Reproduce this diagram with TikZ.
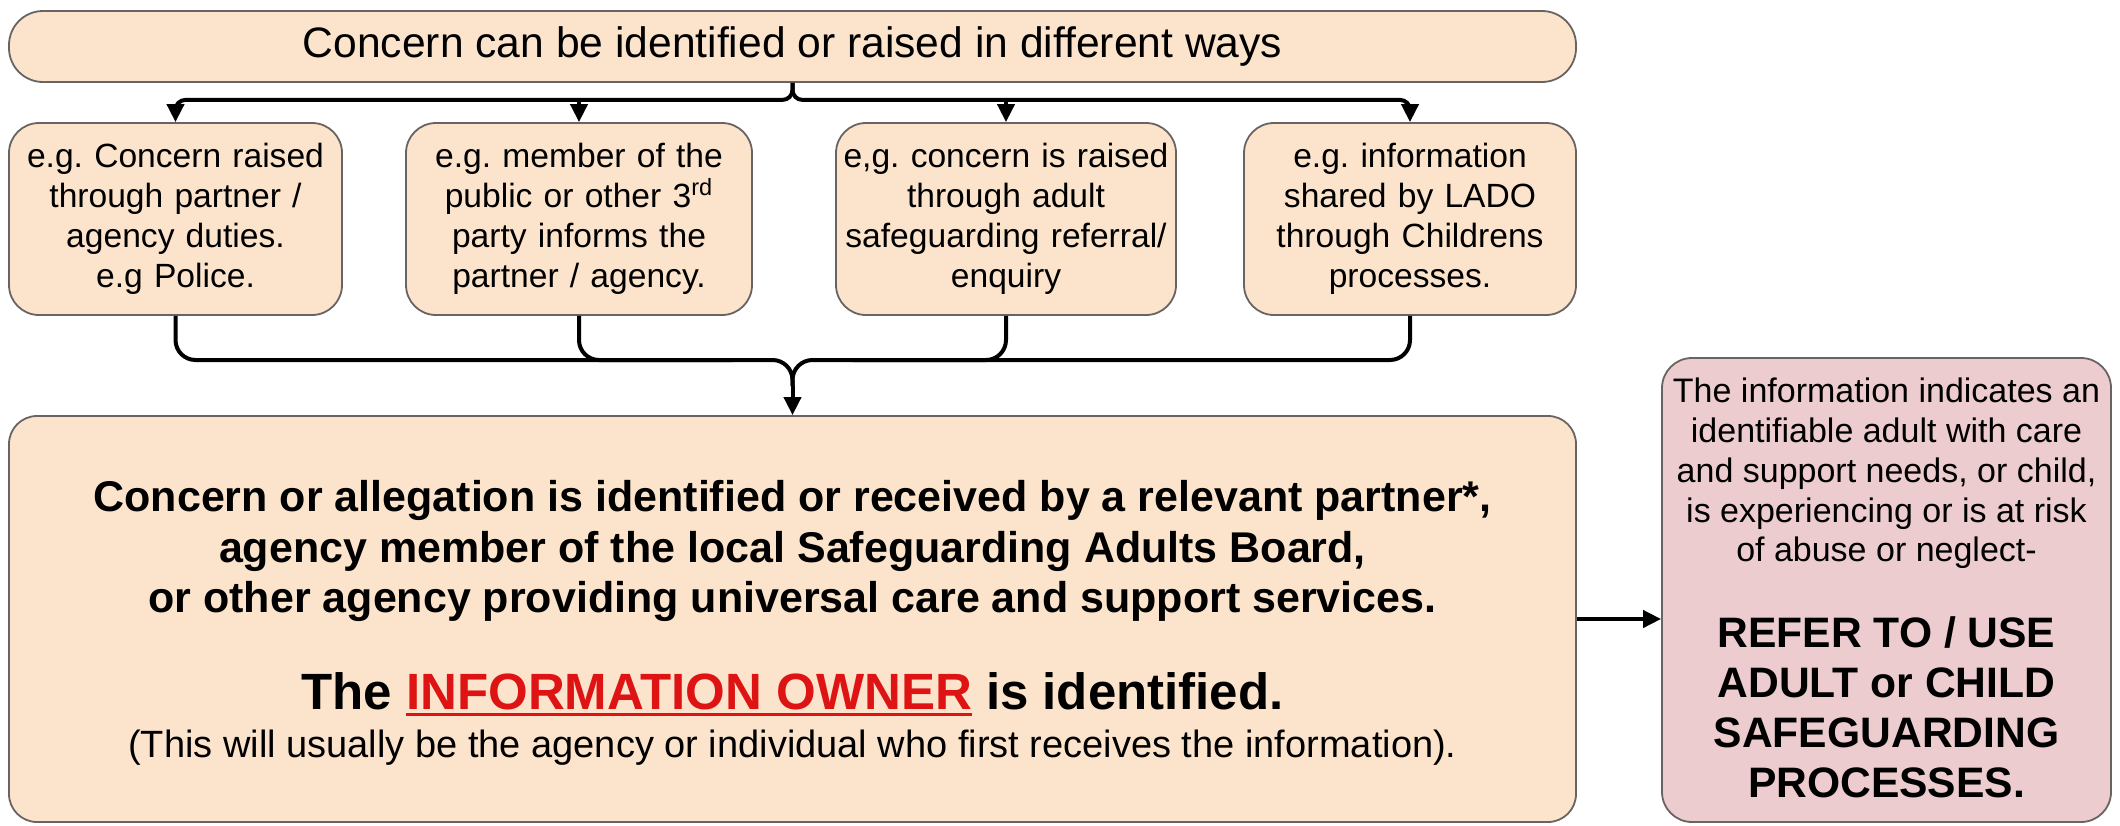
\documentclass[tikz,border=0pt]{standalone}
\usepackage{fontspec}
\setmainfont{Liberation Sans}
\usetikzlibrary{arrows.meta,calc}
\definecolor{peach}{RGB}{252,228,204}
\definecolor{rose}{RGB}{236,204,206}
\definecolor{edgegray}{RGB}{105,100,98}
\definecolor{ownerred}{RGB}{222,20,20}
\newcommand\redul[1]{\setbox0\hbox{#1}\rlap{\rule[-3.5pt]{\wd0}{1.6pt}}\box0}
\begin{document}
\begin{tikzpicture}[x=0.5pt,y=-0.5pt,
  box/.style={draw=edgegray, line width=0.9pt, fill=peach, rounded corners=15pt, inner sep=2pt, align=center},
  smallbox/.style={box, minimum height=96pt, font=\fontsize{16.8}{20}\selectfont},
  conn/.style={line width=2pt, rounded corners=5pt},
  arr/.style={-{Triangle[length=9pt,width=8.5pt]}}
]
\useasboundingbox (0,0) rectangle (2120,825);

% top box
\node[box, minimum width=783.5pt, minimum height=35.5pt, rounded corners=17pt,
      font=\fontsize{21.3}{24}\selectfont] (top) at (792.5,46.5)
      {Concern can be identified or raised in different ways};

% four example boxes
\node[smallbox, minimum width=166.5pt, text width=160pt] (b1) at (175.5,219)
  {e.g.\ Concern raised\\through partner /\\agency duties.\\e.g Police.};
\node[smallbox, minimum width=173pt, text width=167pt] (b2) at (579,219)
  {e.g.\ member of the\\public or other 3\textsuperscript{rd}\\party informs the\\partner / agency.};
\node[smallbox, minimum width=170pt, text width=166pt] (b3) at (1006,219)
  {e,g.\ concern is raised\\through adult\\safeguarding referral/\\enquiry};
\node[smallbox, minimum width=166pt, text width=160pt] (b4) at (1410,219)
  {e.g.\ information\\shared by LADO\\through Childrens\\processes.};

% main box
\node[box, minimum width=783.5pt, minimum height=203pt, rounded corners=14pt] (main) at (792.5,619) {};
\node[anchor=base, font=\fontsize{21.5}{25}\bfseries\selectfont] (m1) at (792.5,511)
  {Concern or allegation is identified or received by a relevant partner*,};
\node[anchor=base, font=\fontsize{21.5}{25}\bfseries\selectfont] (m2) at (792.5,562)
  {agency member of the local Safeguarding Adults Board,};
\node[anchor=base, font=\fontsize{21.5}{25}\bfseries\selectfont] (m3) at (792.5,612)
  {or other agency providing universal care and support services.};
\node[anchor=base, font=\fontsize{25.5}{30}\bfseries\selectfont] (m4) at (792.5,709)
  {The \textcolor{ownerred}{\redul{INFORMATION OWNER}} is identified.};
\node[anchor=base, font=\fontsize{19}{22}\selectfont] (m5) at (792.5,757)
  {(This will usually be the agency or individual who first receives the information).};

% right box
\node[box, fill=rose, minimum width=224.5pt, minimum height=232pt, rounded corners=15pt] (refer) at (1886.5,590) {};
\node[align=center, font=\fontsize{17}{19.85}\selectfont, inner sep=0pt] (r1) at (1886.5,473.5)
  {The information indicates an\\identifiable adult with care\\and support needs, or child,\\is experiencing or is at risk\\of abuse or neglect-};
\node[align=center, font=\fontsize{21.3}{25}\bfseries\selectfont, inner sep=0pt] (r2) at (1886.5,707)
  {REFER TO / USE\\ADULT or CHILD\\SAFEGUARDING\\PROCESSES.};

% distribution connectors
\coordinate (dist) at ($(top.south)+(0,17)$);
\draw[conn, arr] (top.south) -- (dist) -| (b1.north);
\draw[conn, arr] (top.south) -- (dist) -| (b4.north);
\draw[conn, arr] (dist -| b2.north) -- (b2.north);
\draw[conn, arr] (dist -| b3.north) -- (b3.north);

% collecting connectors
\coordinate (col) at (792.5,360);
\coordinate (colb) at (792.5,386);
\draw[conn, rounded corners=10pt] (b1.south) |- (col) -- (colb);
\draw[conn, rounded corners=10pt] (b4.south) |- (col) -- (colb);
\draw[conn, rounded corners=10pt] (b2.south) |- ($(col)+(-60,0)$);
\draw[conn, rounded corners=10pt] (b3.south) |- ($(col)+(60,0)$);
\draw[conn, arr] (colb) -- (main.north);

% to right box
\draw[conn, arr] (main.east) -- (main.east -| refer.west);
\end{tikzpicture}
\end{document}
